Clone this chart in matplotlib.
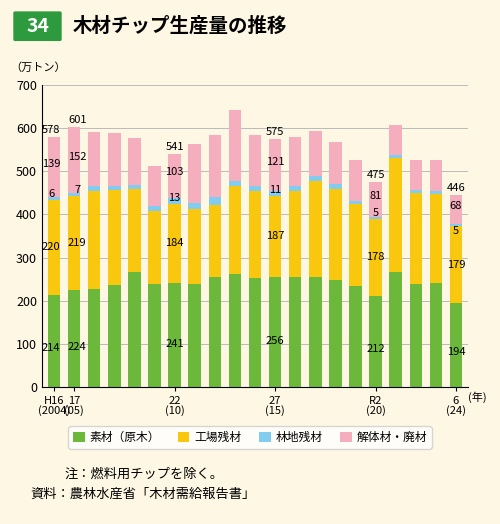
import matplotlib.pyplot as plt
import numpy as np
from matplotlib.patches import FancyBboxPatch

plt.rcParams['font.family'] = ['Noto Sans CJK JP', 'DejaVu Sans']

years = list(range(2004, 2025))
raw = [214, 224, 228, 237, 267, 240, 241, 238, 256, 262, 253, 256, 256, 255, 248, 234, 212, 266, 238, 242, 194]
factory = [220, 219, 227, 220, 191, 168, 184, 174, 166, 203, 202, 187, 199, 223, 212, 191, 178, 264, 212, 206, 179]
forest = [6, 7, 10, 10, 10, 12, 13, 15, 18, 12, 10, 11, 10, 12, 10, 7, 5, 8, 7, 6, 5]
demol = [139, 152, 125, 121, 110, 92, 103, 135, 145, 166, 118, 121, 115, 103, 98, 95, 81, 68, 70, 71, 68]
totals_shown = {2004: 578, 2005: 601, 2010: 541, 2015: 575, 2020: 475, 2024: 446}
xlabels = {2004: "H16\n(2004)", 2005: "17\n(05)", 2010: "22\n(10)", 2015: "27\n(15)", 2020: "R2\n(20)", 2024: "6\n(24)"}

c_raw, c_fac, c_for, c_dem = "#6cb83a", "#f9c80e", "#82cdef", "#f5aebd"
bg = "#fdf7e4"

fig = plt.figure(figsize=(5, 5.24), dpi=100, facecolor=bg)
ax = fig.add_axes([0.084, 0.261, 0.852, 0.577], facecolor=bg)

x = np.arange(len(years))
raw_a, fac_a, for_a, dem_a = map(np.array, (raw, factory, forest, demol))
w = 0.62
ax.bar(x, raw_a, w, color=c_raw, label="素材（原木）")
ax.bar(x, fac_a, w, bottom=raw_a, color=c_fac, label="工場残材")
ax.bar(x, for_a, w, bottom=raw_a + fac_a, color=c_for, label="林地残材")
ax.bar(x, dem_a, w, bottom=raw_a + fac_a + for_a, color=c_dem, label="解体材・廃材")

fs = 8
# small horizontal nudges so neighbouring labels don't collide
dx = {2004: -0.15, 2005: 0.15}
for i, y in enumerate(years):
    if y not in totals_shown:
        continue
    xi = i + dx.get(y, 0)
    b1 = raw_a[i]; b2 = b1 + fac_a[i]; b3 = b2 + for_a[i]; b4 = b3 + dem_a[i]
    ax.text(xi, b1 * 0.42, str(raw[i]), ha="center", va="center", fontsize=fs)
    ax.text(xi, b1 + fac_a[i] / 2, str(factory[i]), ha="center", va="center", fontsize=fs)
    if y == 2024:
        ax.text(xi, b2 - 12, str(forest[i]), ha="center", va="center", fontsize=fs)
        ax.text(xi, b3 + dem_a[i] / 2 + 8, str(demol[i]), ha="center", va="center", fontsize=fs)
    else:
        ax.text(xi, b2 + 14, str(forest[i]), ha="center", va="center", fontsize=fs)
        ax.text(xi, b3 + dem_a[i] / 2 + 8, str(demol[i]), ha="center", va="center", fontsize=fs)
    ax.text(xi, b4 + 4, str(totals_shown[y]), ha="center", va="bottom", fontsize=fs)

ax.set_xlim(-0.6, len(years) - 0.4)
ax.set_ylim(0, 700)
ax.set_yticks(range(0, 701, 100))
ax.yaxis.grid(True, color="#bbbbbb", lw=0.7)
ax.set_axisbelow(True)
ax.set_xticks([i for i, y in enumerate(years) if y in xlabels])
ax.set_xticklabels([xlabels[y] for y in years if y in xlabels], fontsize=8, linespacing=0.9)
ax.tick_params(axis="y", labelsize=9, length=0)
ax.tick_params(axis="x", length=3)
for s in ("top", "right"):
    ax.spines[s].set_visible(False)
fig.text(0.02, 0.865, "（万トン）", ha="left", fontsize=8)
ax.text(1.0, -0.045, "(年)", transform=ax.transAxes, ha="left", fontsize=8)

# title
fig.patches.append(FancyBboxPatch((0.03, 0.925), 0.09, 0.05, boxstyle="round,pad=0.002",
                                  transform=fig.transFigure, color="#2e9a3e"))
fig.text(0.075, 0.95, "34", color="white", fontsize=14, fontweight="bold", ha="center", va="center")
fig.text(0.145, 0.95, "木材チップ生産量の推移", fontsize=14, fontweight="bold", ha="left", va="center")

fig.legend(loc="center", bbox_to_anchor=(0.5, 0.165), ncol=4, fontsize=8.5, frameon=True,
           facecolor="white", edgecolor="#cccccc", handlelength=1, handleheight=1,
           columnspacing=1.5, handletextpad=0.4)

fig.text(0.13, 0.088, "注：燃料用チップを除く。", fontsize=9.5)
fig.text(0.06, 0.05, "資料：農林水産省「木材需給報告書」", fontsize=9.5)

fig.savefig("out.png", dpi=100, facecolor=bg)
